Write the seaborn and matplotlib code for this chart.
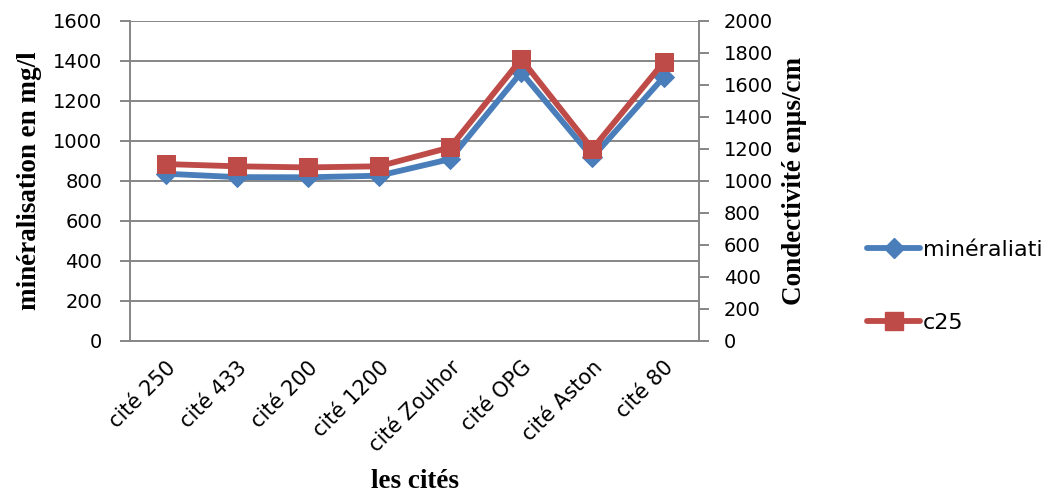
import matplotlib
matplotlib.use("Agg")
import matplotlib.pyplot as plt
from matplotlib.lines import Line2D
import seaborn as sns
import pandas as pd

# data
cites = ["cité 250", "cité 433", "cité 200", "cité 1200", "cité Zouhor",
         "cité OPG", "cité Aston", "cité 80"]
mineralisation = [835, 818, 817, 825, 908, 1342, 917, 1317]
c25 = [1104, 1090, 1083, 1090, 1208, 1760, 1198, 1740]

blue = "#4A7EBB"
red = "#BE4B48"
grey = "#868686"

sns.set_theme(style="white")
plt.rcParams["font.family"] = ["DejaVu Sans"]
plt.rcParams["text.color"] = "black"
plt.rcParams["axes.labelcolor"] = "black"

df = pd.DataFrame({"cite": cites, "min": mineralisation, "c25": c25})

fig = plt.figure(figsize=(10.47, 4.94), dpi=100)
ax = fig.add_axes([0.1242, 0.3103, 0.5435, 0.6478])
ax2 = ax.twinx()

sns.lineplot(data=df, x="cite", y="min", ax=ax, color=blue, linewidth=4.2,
             marker="D", markersize=10, markeredgecolor=blue, sort=False)
sns.lineplot(data=df, x="cite", y="c25", ax=ax2, color=red, linewidth=4.2,
             marker="s", markersize=12.5, markeredgecolor=red, sort=False)

ax.set_xlim(-0.5, len(cites) - 0.5)
ax.set_ylim(0, 1600)
ax2.set_ylim(0, 2000)
ax.set_yticks(range(0, 1601, 200))
ax2.set_yticks(range(0, 2001, 200))
ax.yaxis.grid(True, color=grey, linewidth=1.4)
ax.set_axisbelow(True)

# category ticks between cities
ax.set_xticks(range(len(cites)))
ax.set_xticklabels(cites, rotation=45, ha="right", rotation_mode="anchor")
ax.set_xticks([i - 0.5 for i in range(len(cites) + 1)], minor=True)
ax.tick_params(axis="x", which="major", length=0, pad=12, labelsize=15, labelcolor="black")
ax.tick_params(axis="x", which="minor", length=7, width=1.4, color=grey, direction="out")
ax.tick_params(axis="y", length=7, width=1.4, color=grey, direction="out",
               labelsize=14, pad=13, labelcolor="black")
ax2.tick_params(axis="y", length=7, width=1.4, color=grey, direction="out",
                labelsize=14, pad=11, labelcolor="black")
for a in (ax, ax2):
    for s in a.spines.values():
        s.set_visible(False)
for a, side in ((ax, "left"), (ax, "bottom"), (ax2, "right")):
    a.spines[side].set_visible(True)
    a.spines[side].set_color(grey)
    a.spines[side].set_linewidth(1.4)

label_font = dict(family="Liberation Serif", fontweight="bold", fontsize=19.5, color="black")
ax.set_xlabel("les cités", labelpad=9, **label_font)
ax.set_ylabel("minéralisation en mg/l", labelpad=8, **label_font)
ax2.set_ylabel("Condectivité enµs/cm", labelpad=6, **label_font)

handles = [
    Line2D([], [], color=blue, linewidth=4.2, marker="D", markersize=10),
    Line2D([], [], color=red, linewidth=4.2, marker="s", markersize=12.5),
]
fig.legend(handles, ["minéraliati", "c25"], loc="upper left",
           bbox_to_anchor=(0.809, 0.555), frameon=False, fontsize=16,
           handlelength=2.4, handletextpad=0.1, labelspacing=2.4)

fig.savefig("out.png", dpi=100)
